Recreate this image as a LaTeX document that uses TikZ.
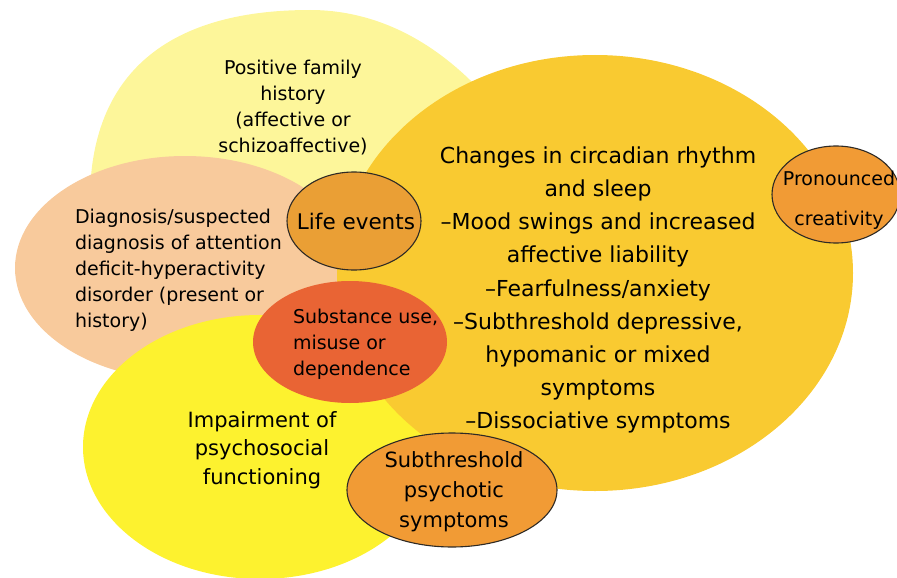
\documentclass[tikz,border=0pt]{standalone}
\usepackage{fontspec}
\setmainfont{DejaVu Sans}
\usetikzlibrary{shapes.geometric}
\definecolor{famY}{HTML}{FDF69A}
\definecolor{peach}{HTML}{F8CA9C}
\definecolor{brightY}{HTML}{FDF22F}
\definecolor{goldY}{HTML}{F9CA31}
\definecolor{lifeO}{HTML}{EA9F35}
\definecolor{subR}{HTML}{E96434}
\definecolor{psyO}{HTML}{F19B35}
\definecolor{edgeC}{HTML}{2E2A25}
\begin{document}
\begin{tikzpicture}[x=1pt,y=-1pt,
  blob/.style={ellipse, inner sep=0pt, outer sep=0pt},
  ringed/.style={blob, draw=edgeC, line width=1.1pt},
  txt/.style={inner sep=0pt, outer sep=0pt, text=black},
  smalltxt/.style={txt, font=\fontsize{19}{26}\selectfont},
  bigtxt/.style={txt, font=\fontsize{22}{33.1}\selectfont}]
\useasboundingbox (0,0) rectangle (897,578);
\clip (0,0) rectangle (897,578);
% background blobs
\fill[famY] (90,200) .. controls (90,90) and (150,10) .. (310,10)
  .. controls (380,10) and (455,45) .. (520,140)
  .. controls (560,230) and (450,300) .. (300,300)
  .. controls (150,300) and (90,280) .. (90,200);
\node[blob, fill=peach, minimum width=340pt, minimum height=224pt] (adhd) at (185,268) {};
\node[blob, fill=brightY, minimum width=354pt, minimum height=264pt] (imp) at (260,447) {};
\node[blob, fill=goldY, minimum width=516pt, minimum height=436pt] (chg) at (595,273) {};
\node[ringed, fill=lifeO, minimum width=134pt, minimum height=98pt] (life) at (354,221) {};
\node[blob, fill=subR, minimum width=194pt, minimum height=122pt] (sub) at (350,342) {};
\node[ringed, fill=psyO, minimum width=210pt, minimum height=114pt] (psy) at (452,490) {};
\node[ringed, fill=psyO, minimum width=128pt, minimum height=97pt] (crea) at (836,194.5) {};
% texts
\node[smalltxt, align=center] (famT) at (293,108) {Positive family\\history\\(affective or\\schizoaffective)};
\node[smalltxt, align=left, anchor=west] (adhdT) at (75,270) {Diagnosis/suspected\\diagnosis of attention\\deficit-hyperactivity\\disorder (present or\\history)};
\node[txt, font=\fontsize{21.5}{26}\selectfont] (lifeT) at (356,221) {Life events};
\node[bigtxt, align=center] (chgT) at (598,290) {Changes in circadian rhythm\\and sleep\\–Mood swings and increased\\affective liability\\–Fearfulness/anxiety\\–Subthreshold depressive,\\hypomanic or mixed\\symptoms\\–Dissociative symptoms};
\node[txt, font=\fontsize{19}{40}\selectfont, align=center] (creaT) at (839,200) {Pronounced\\creativity};
\node[smalltxt, align=left, anchor=west] (subT) at (293,344) {Substance use,\\misuse or\\dependence};
\node[txt, font=\fontsize{21}{28.5}\selectfont, align=center] (impT) at (262,450) {Impairment of\\psychosocial\\functioning};
\node[txt, font=\fontsize{21}{30}\selectfont, align=center] (psyT) at (454,492) {Subthreshold\\psychotic\\symptoms};
\end{tikzpicture}
\end{document}
